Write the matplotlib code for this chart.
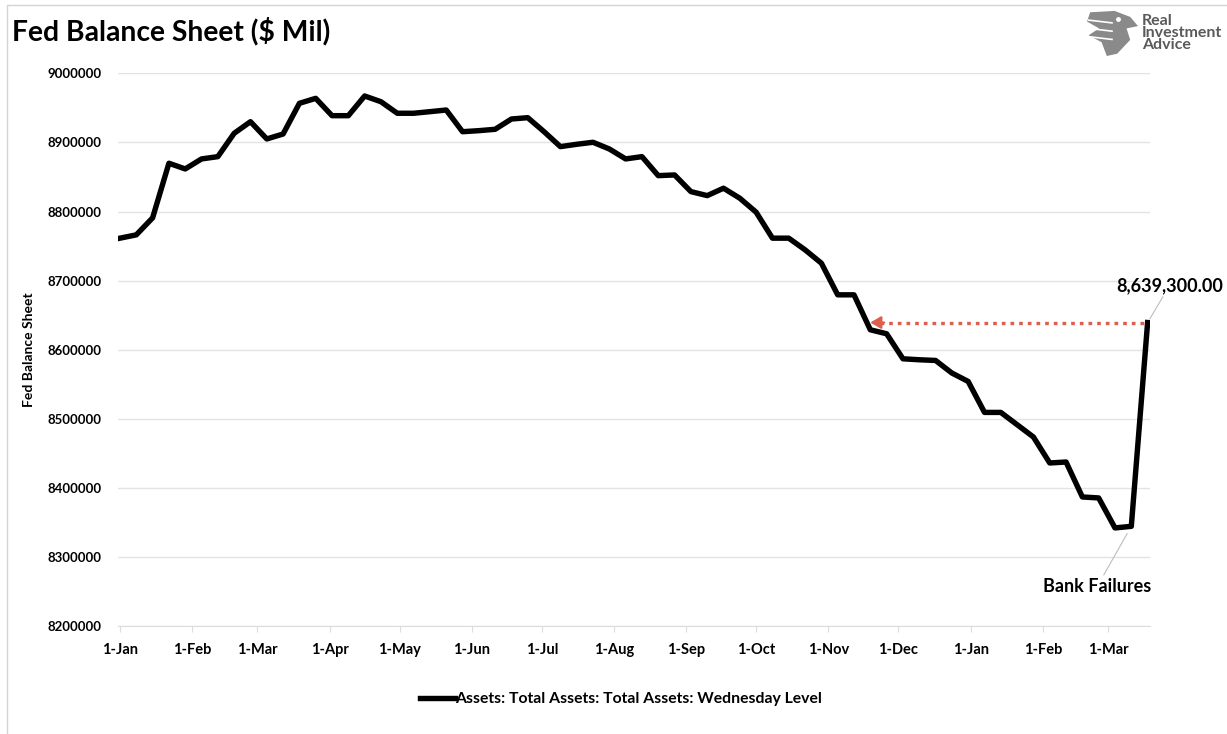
import numpy as np
import pandas as pd
import matplotlib.pyplot as plt
import matplotlib.dates as mdates
from matplotlib.patches import Rectangle, Polygon

plt.rcParams['font.family'] = ['Lato', 'DejaVu Sans']
plt.rcParams['font.weight'] = 'bold'

# Weekly total assets, $ millions
start_date = '2022-01-01'
assets = [
    8761400, 8766200, 8790800, 8869850, 8861600, 8876100, 8879400, 8913200,
    8930000, 8905000, 8912200, 8956600, 8963800, 8938700, 8938700, 8967200,
    8958900, 8942200, 8942200, 8944500, 8946900, 8915500, 8917000, 8919000,
    8933900, 8935800, 8915500, 8893900, 8897300, 8900200, 8890500, 8876100,
    8879400, 8851900, 8852900, 8828800, 8823000, 8833700, 8819200, 8799000,
    8761400, 8761400, 8744500, 8725200, 8679400, 8679400, 8628800, 8623000,
    8586800, 8585400, 8584400, 8566200, 8554000, 8509200, 8509200, 8491400,
    8473600, 8436000, 8437400, 8386800, 8385400, 8342000, 8344300, 8639300,
]
dates = pd.date_range(start_date, periods=len(assets), freq='7D')

y_ticks = [8200000, 8300000, 8400000, 8500000, 8600000, 8700000, 8800000, 8900000, 9000000]
series_name = 'Assets: Total Assets: Total Assets: Wednesday Level'
last_label = '8,639,300.00'
event_label = 'Bank Failures'
arrow_tip = pd.Timestamp('2022-11-19')

fig = plt.figure(figsize=(12.27, 7.34), dpi=100)
ax = fig.add_axes([0.0962, 0.1471, 0.8410, 0.7530])

# chart frame
fig.patches.append(Rectangle((7 / 1227, -0.01), 1.02, 1 - 5 / 734 + 0.01,
                             transform=fig.transFigure, fill=False,
                             edgecolor='#d4d4d4', lw=1.0))

ax.plot(dates, assets, color='black', lw=3.9, solid_joinstyle='round', zorder=3)

ax.set_ylim(8200000, 9000000)
ax.set_yticks(y_ticks)
ax.set_yticklabels([str(v) for v in y_ticks])
ax.set_xlim(pd.Timestamp('2021-12-31 04:00'), pd.Timestamp('2023-03-19'))
ax.xaxis.set_major_locator(mdates.MonthLocator(bymonthday=1))
ax.xaxis.set_major_formatter(mdates.DateFormatter('%-d-%b'))

ax.grid(axis='y', color='#e3e3e3', lw=1.0)
ax.set_axisbelow(True)
for side in ['top', 'right', 'left']:
    ax.spines[side].set_visible(False)
ax.spines['bottom'].set_color('#dcdcdc')
ax.tick_params(axis='y', length=0, pad=12, labelsize=9.5)
ax.tick_params(axis='x', length=4, color='#dcdcdc', pad=8, labelsize=10.5)
for lab in ax.get_xticklabels() + ax.get_yticklabels():
    lab.set_fontweight('bold')

ax.set_ylabel('Fed Balance Sheet', fontsize=10, fontweight='bold', labelpad=9)

# dotted red arrow back to the November level
ax.plot([arrow_tip + pd.Timedelta(days=4), dates[-1]], [assets[-1], assets[-1]],
        color='#dc5f4e', lw=2.4, dashes=(1.1, 1.5), zorder=2)
ax.annotate('', xy=(arrow_tip, assets[-1]),
            xytext=(arrow_tip + pd.Timedelta(days=6), assets[-1]),
            arrowprops=dict(arrowstyle='-|>,head_length=0.65,head_width=0.38',
                            color='#dc5f4e', lw=1.5, shrinkA=0, shrinkB=0))

ax.annotate(last_label, xy=(dates[-1], assets[-1]), xytext=(22, 37),
            textcoords='offset pixels', ha='center', va='center',
            fontsize=13, fontweight='bold', annotation_clip=False,
            arrowprops=dict(arrowstyle='-', color='#bdbdbd', lw=0.8,
                            shrinkA=0, shrinkB=3))
ax.annotate(event_label, xy=(dates[-2], assets[-2]), xytext=(-34, -60),
            textcoords='offset pixels', ha='center', va='center',
            fontsize=13, fontweight='bold', annotation_clip=False,
            arrowprops=dict(arrowstyle='-', color='#bdbdbd', lw=0.8,
                            shrinkA=0, shrinkB=6))

fig.text(12 / 1227, 1 - 31 / 734, 'Fed Balance Sheet ($ Mil)', fontsize=20.3,
         fontweight='bold', va='center', ha='left')

# logo
logo = fig.add_axes([1086 / 1227, 1 - 56 / 734, 52 / 1227, 46 / 734])
logo.set_xlim(0, 1)
logo.set_ylim(0, 1)
logo.axis('off')
logo.add_patch(Polygon([(0.08, 0.95), (0.55, 0.98), (0.85, 0.85), (1.0, 0.65),
                        (0.78, 0.6), (0.85, 0.35), (0.6, 0.05), (0.4, 0.0),
                        (0.3, 0.3), (0.05, 0.45), (0.25, 0.6), (0.02, 0.75)],
                       closed=True, facecolor='#8a8a8a', edgecolor='none'))
for yy in [0.78, 0.6, 0.42]:
    logo.plot([0.05, 0.5], [yy, yy - 0.06], color='white', lw=1.2)
logo.plot([0.62], [0.8], marker='o', color='white', ms=2.5)
fig.text(1142 / 1227, 1 - 33 / 734, 'Real\nInvestment\nAdvice', fontsize=11.5,
         fontweight='bold', color='#5a5a5a', va='center', ha='left',
         linespacing=0.82)

leg = fig.legend(ax.get_lines()[:1], [series_name], loc='center',
                 bbox_to_anchor=(621 / 1227, 1 - 699 / 734), frameon=False,
                 handlelength=2.2, handletextpad=0.0,
                 prop={'weight': 'bold', 'size': 11.3})

fig.savefig('out.png', dpi=100, facecolor='white')
